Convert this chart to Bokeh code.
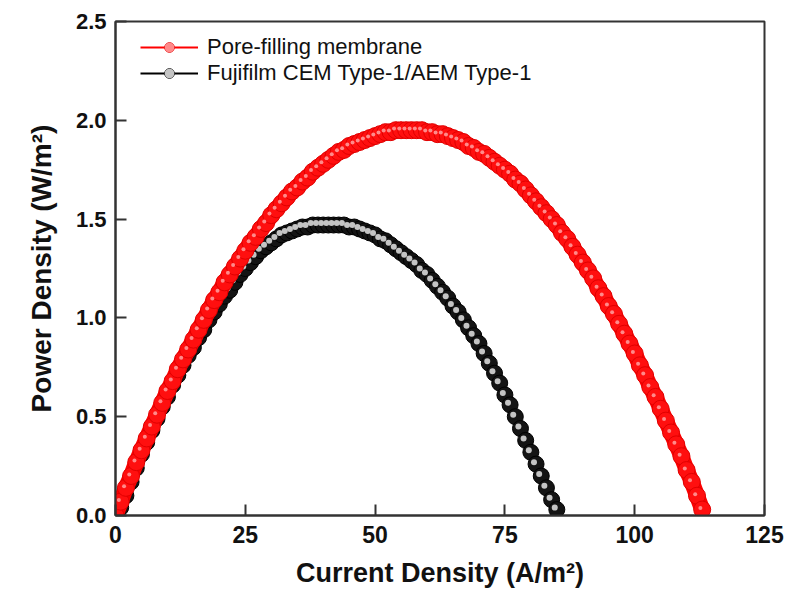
from bokeh.plotting import figure
from bokeh.models import (Range1d, FixedTicker, Legend, LegendItem,
                          NumeralTickFormatter, ColumnDataSource)
from bokeh.embed import file_html
from bokeh.resources import INLINE

# ---------------- data ----------------
pore_current = list(range(0, 114))
pore_power = [
    0.00, 0.07, 0.14, 0.20, 0.27, 0.33, 0.39, 0.45, 0.51, 0.57,
    0.63, 0.68, 0.74, 0.79, 0.84, 0.89, 0.94, 0.99, 1.04, 1.09,
    1.13, 1.18, 1.22, 1.26, 1.30, 1.34, 1.38, 1.41, 1.45, 1.48,
    1.52, 1.55, 1.58, 1.61, 1.64, 1.66, 1.69, 1.71, 1.74, 1.76,
    1.78, 1.80, 1.82, 1.84, 1.85, 1.87, 1.88, 1.89, 1.90, 1.91,
    1.92, 1.93, 1.94, 1.94, 1.95, 1.95, 1.95, 1.95, 1.95, 1.95,
    1.94, 1.94, 1.93, 1.93, 1.92, 1.91, 1.90, 1.89, 1.87, 1.86,
    1.84, 1.83, 1.81, 1.79, 1.77, 1.75, 1.73, 1.70, 1.68, 1.65,
    1.62, 1.59, 1.56, 1.53, 1.50, 1.47, 1.43, 1.40, 1.36, 1.32,
    1.28, 1.24, 1.20, 1.15, 1.11, 1.06, 1.02, 0.97, 0.92, 0.87,
    0.82, 0.76, 0.71, 0.65, 0.60, 0.54, 0.48, 0.42, 0.36, 0.30,
    0.23, 0.17, 0.10, 0.03,
]

fuji_current = list(range(1, 86))
fuji_power = [
    0.04, 0.10, 0.17, 0.24, 0.31, 0.37, 0.43, 0.49, 0.55, 0.60,
    0.66, 0.71, 0.76, 0.81, 0.85, 0.90, 0.94, 0.99, 1.03, 1.07,
    1.11, 1.14, 1.18, 1.22, 1.25, 1.28, 1.31, 1.34, 1.36, 1.38,
    1.40, 1.42, 1.43, 1.44, 1.45, 1.46, 1.46, 1.47, 1.47, 1.47,
    1.47, 1.47, 1.47, 1.47, 1.46, 1.46, 1.45, 1.44, 1.43, 1.42,
    1.40, 1.39, 1.37, 1.35, 1.33, 1.31, 1.29, 1.27, 1.24, 1.22,
    1.19, 1.16, 1.13, 1.10, 1.06, 1.03, 0.99, 0.95, 0.91, 0.87,
    0.82, 0.77, 0.72, 0.67, 0.61, 0.56, 0.50, 0.44, 0.38, 0.32,
    0.26, 0.20, 0.14, 0.08, 0.03,
]

x_ticks = [0, 25, 50, 75, 100, 125]
y_ticks = [0.0, 0.5, 1.0, 1.5, 2.0, 2.5]
labels = ["Pore-filling membrane", "Fujifilm CEM Type-1/AEM Type-1"]
x_title = "Current Density (A/m\u00b2)"
y_title = "Power Density (W/m\u00b2)"

FONT = "Liberation Sans"
AXC = "#333333"

p = figure(width=792, height=602, output_backend="svg", toolbar_location=None,
           x_range=Range1d(0, 125), y_range=Range1d(0, 2.5),
           min_border_left=115, min_border_right=28,
           min_border_top=21, min_border_bottom=87,
           background_fill_color="white", border_fill_color="white")

p.xgrid.visible = False
p.ygrid.visible = False
p.outline_line_color = AXC
p.outline_line_width = 2

# ---------------- glyphs ----------------
src_f = ColumnDataSource(dict(
    x=fuji_current, y=fuji_power,
    hx=[v - 0.4 for v in fuji_current],
    hy=[v + 0.010 for v in fuji_power]))
r_fl = p.line("x", "y", source=src_f, line_color="black", line_width=2)
r_fs = p.scatter("x", "y", source=src_f, size=16, fill_color="#141414",
                 line_color="#000000", line_width=1)
r_fh = p.scatter("hx", "hy", source=src_f, size=6, fill_color="#c4c4c4",
                 line_color=None)

src_p = ColumnDataSource(dict(
    x=pore_current, y=pore_power,
    hx=[v - 0.35 for v in pore_current],
    hy=[v + 0.008 for v in pore_power]))
p.line("x", "y", source=src_p, line_color="#ff0000", line_width=16,
       line_cap="round", line_join="round")
r_pl = p.line("x", "y", source=src_p, line_color="#ff0000", line_width=2)
r_ps = p.scatter("x", "y", source=src_p, size=17, fill_color="#ff0f0f",
                 line_color="#e00000", line_width=1)
r_ph = p.scatter("hx", "hy", source=src_p, size=4, fill_color="#ff8a8a",
                 line_color=None)

# ---------------- axes ----------------
p.xaxis.ticker = FixedTicker(ticks=x_ticks)
p.yaxis.ticker = FixedTicker(ticks=y_ticks)
p.yaxis.formatter = NumeralTickFormatter(format="0.0")
p.xaxis.formatter = NumeralTickFormatter(format="0")

for ax in (p.xaxis[0], p.yaxis[0]):
    ax.axis_line_color = AXC
    ax.axis_line_width = 2
    ax.major_tick_line_color = AXC
    ax.major_tick_line_width = 2
    ax.major_tick_in = 11
    ax.major_tick_out = 0
    ax.minor_tick_in = 0
    ax.minor_tick_out = 0
    ax.major_label_text_font = FONT
    ax.major_label_text_font_style = "bold"
    ax.major_label_text_color = "#111111"
    ax.axis_label_text_font = FONT
    ax.axis_label_text_font_style = "bold"
    ax.axis_label_text_color = "#111111"

p.xaxis.major_label_text_font_size = "23px"
p.yaxis.major_label_text_font_size = "22px"
p.xaxis.major_label_standoff = 10
p.yaxis.major_label_standoff = 9
p.xaxis.axis_label = x_title
p.yaxis.axis_label = y_title
p.xaxis.axis_label_text_font_size = "27px"
p.yaxis.axis_label_text_font_size = "28px"
p.xaxis.axis_label_standoff = 12
p.yaxis.axis_label_standoff = 16

# ---------------- legend ----------------
legend = Legend(
    items=[LegendItem(label=labels[0], renderers=[r_pl, r_ps, r_ph]),
           LegendItem(label=labels[1], renderers=[r_fl, r_fs, r_fh])],
    location=(25, 429),
    orientation="vertical",
    glyph_width=58, glyph_height=24, label_height=24,
    spacing=0, padding=0, margin=0, label_standoff=9,
    border_line_color=None, background_fill_alpha=0,
    label_text_font=FONT, label_text_font_size="22px",
    label_text_color="#111111")
p.add_layout(legend)

open("out.html", "w").write(file_html(p, INLINE))
